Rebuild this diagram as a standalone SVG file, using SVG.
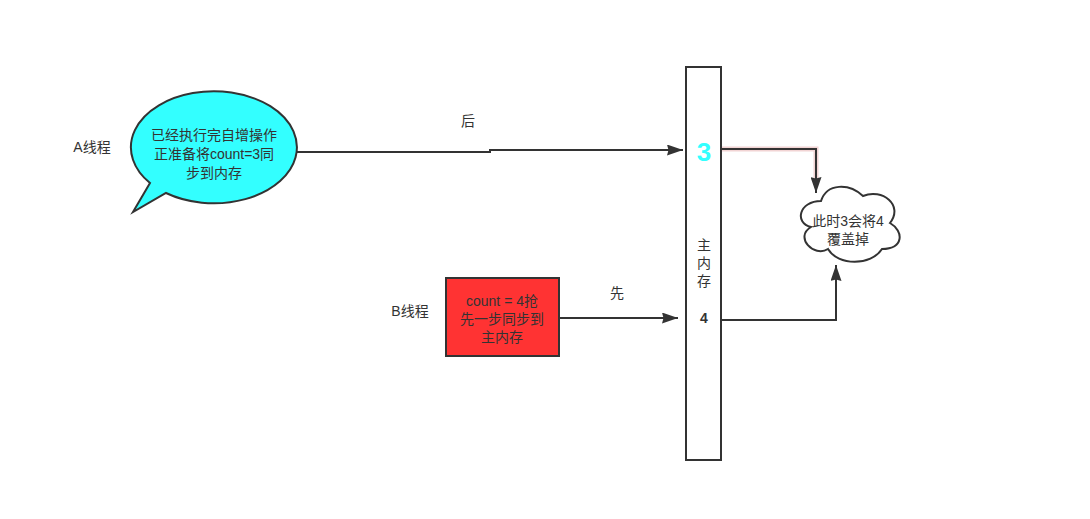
<svg xmlns="http://www.w3.org/2000/svg" width="1090" height="519" viewBox="0 0 1090 519">
<style>
text{font-family:"Liberation Sans","Noto Sans CJK SC",sans-serif;font-size:14px;fill:#333;text-anchor:middle}
.edge{fill:none;stroke:#333;stroke-width:2}
.node{stroke:#333;stroke-width:2}
</style>
<defs>
<marker id="arrB" viewBox="0 0 16 11" refX="16" refY="5.5" markerWidth="16" markerHeight="11" markerUnits="userSpaceOnUse" orient="auto">
<path d="M0,0 L16,5.5 L0,11 L1.5,5.5 Z" fill="#333"/>
</marker>
</defs>
<rect width="1090" height="519" fill="#fff"/>
<g id="connectors">
<path class="edge" d="M297,152 L490,152 L490,150 L683,150" marker-end="url(#arrB)"/>
<path class="edge" d="M559,318 L678,318" marker-end="url(#arrB)"/>
<path d="M721,149 L816,149 L816,178" fill="none" stroke="#f2d4d4" stroke-width="5"/>
<path class="edge" d="M721,149 L816,149 L816,193" marker-end="url(#arrB)"/>
<path class="edge" d="M721,320 L836,320 L836,265" marker-end="url(#arrB)"/>
</g>
<g id="labelA"><text x="92" y="152">A线程</text></g>
<g id="labelB"><text x="410" y="316">B线程</text></g>
<g id="labelHou"><text x="468" y="126">后</text></g>
<g id="labelXian"><text x="617" y="298">先</text></g>
<g id="bubble">
<path class="node" fill="#33FFFF" d="M150,183 L133,212 L166,193 A83 56 0 1 0 150,183 Z"/>
<text x="214" y="140">已经执行完自增操作</text>
<text x="214" y="159">正准备将count=3同</text>
<text x="214" y="178">步到内存</text>
</g>
<g id="threadB">
<rect class="node" x="446" y="278" width="113" height="78" fill="#FF3333"/>
<text x="502" y="306">count = 4抢</text>
<text x="502" y="324">先一步同步到</text>
<text x="502" y="342">主内存</text>
</g>
<g id="memory">
<rect class="node" x="686" y="67" width="35" height="393" fill="#fff"/>
<text x="704" y="161" style="font-size:26px;font-weight:bold;fill:#33FFFF">3</text>
<text x="704" y="250">主</text>
<text x="704" y="268">内</text>
<text x="704" y="286">存</text>
<text x="704" y="323" style="font-weight:bold">4</text>
</g>
<g id="cloud">
<path class="node" fill="#fff" d="M821,201 C799,201 794,223 811,227 C794,237 814,258 828,249 C838,266 871,266 882,249 C904,249 904,231 890,223 C904,205 882,188 863,196 C849,183 827,183 821,201 Z"/>
<text x="848" y="226">此时3会将4</text>
<text x="848" y="244">覆盖掉</text>
</g>
</svg>
